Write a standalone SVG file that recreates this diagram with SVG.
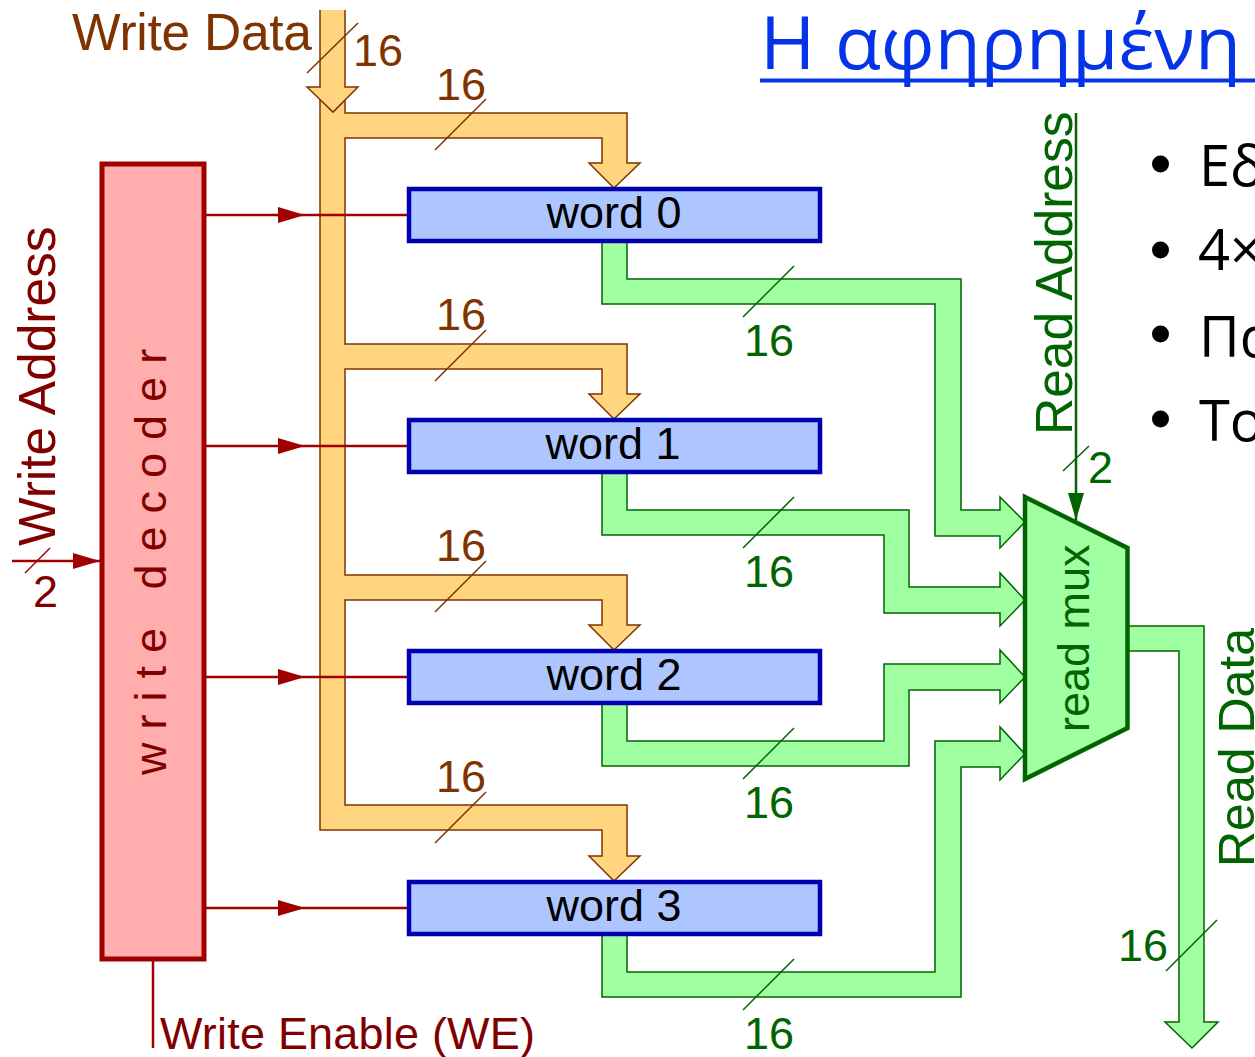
<svg xmlns="http://www.w3.org/2000/svg" width="1255" height="1057" viewBox="0 0 1255 1057">
<style>
text{font-family:"Liberation Sans",Arial,sans-serif}
.t45{font-size:45px}.t51{font-size:51.500px}.t50{font-size:50px}
.br{fill:#7f3300}.rd{fill:#800000}.gr{fill:#006400}.bk{fill:#000}
.ybus{fill:#ffd580;stroke:#7f3300;stroke-width:1.5}
.gbus{fill:#a0ffa0;stroke:#006400;stroke-width:1.5}
.yt{stroke:#7f3300;stroke-width:1.5;fill:none}
.gt{stroke:#006400;stroke-width:1.5;fill:none}
.rw{stroke:#a00000;stroke-width:2.5;fill:none}
.word rect{fill:#adc6ff;stroke:#0000b0;stroke-width:4.5}
.sl{font-family:"Open Sans","Noto Sans",sans-serif;fill:#000;font-size:56px}
.ti{font-family:"Open Sans","Noto Sans",sans-serif;fill:#0433e8;font-size:73px}
</style>
<defs>
<marker id="ar" markerUnits="userSpaceOnUse" markerWidth="27" markerHeight="16" refX="27" refY="8" orient="auto"><path d="M0 0L27 8L0 16Z" fill="#a00000"/></marker>
<marker id="ag" markerUnits="userSpaceOnUse" markerWidth="27" markerHeight="16" refX="27" refY="8" orient="auto"><path d="M0 0L27 8L0 16Z" fill="#006400"/></marker>
</defs>
<g id="connectors">
<path class="ybus" d="M320 99L333 112L345 100V113H627V163H640L614 188L589 163H602V138H345V344H627V394H640L614 419L589 394H602V369H345V575H627V625H640L614 650L589 625H602V600H345V805H627V856H640L614 881L589 856H602V830H320Z"/>
<path class="ybus" d="M320 10V87H307L333 112L358 87H345V10"/>
<path class="gbus" d="M627 241V279H961V510H1000V497L1025 522L1000 548V536H935V304H602V241Z"/>
<path class="gbus" d="M627 472V510H909V587H1000V573L1025 600L1000 626V613H884V535H602V472Z"/>
<path class="gbus" d="M627 703V741H884V664H1000V650L1025 677L1000 703V690H909V766H602V703Z"/>
<path class="gbus" d="M627 934V972H935V741H1000V727L1025 754L1000 780V767H961V997H602V934Z"/>
<path class="gbus" d="M1128 626H1204V1022H1218L1192 1048L1165 1022H1179V651H1128Z"/>
<path class="rw" marker-mid="url(#ar)" d="M204 215L305 215L409 215"/>
<path class="rw" marker-mid="url(#ar)" d="M204 446L305 446L409 446"/>
<path class="rw" marker-mid="url(#ar)" d="M204 677L305 677L409 677"/>
<path class="rw" marker-mid="url(#ar)" d="M204 908L305 908L409 908"/>
<path class="rw" marker-end="url(#ar)" d="M12 561H100"/>
<path class="rw" d="M153 959V1048"/>
<path d="M1076 113V520" stroke="#006400" stroke-width="2.5" fill="none" marker-end="url(#ag)"/>
<path class="yt" d="M307 73L358 23M435 150L486 99M435 381L486 330M435 612L486 561M435 843L486 792"/>
<path class="gt" d="M743 317L794 266M743 548L794 497M743 779L794 728M743 1010L794 959M1166 971L1217 920M1063 471L1089 446"/>
<path d="M25 573L50 548" stroke="#a00000" stroke-width="1.5" fill="none"/>
</g>
<g id="decoder"><rect x="102" y="164" width="102" height="795" fill="#ffadad" stroke="#a00000" stroke-width="5"/>
<text class="t45 rd" transform="translate(166 775) rotate(-90)" letter-spacing="13">write decoder</text></g>
<g id="word0" class="word"><rect x="409" y="189" width="411" height="52"/><text class="t45 bk" x="614" y="228" text-anchor="middle">word 0</text></g>
<g id="word1" class="word"><rect x="409" y="420" width="411" height="52"/><text class="t45 bk" x="613" y="459" text-anchor="middle">word 1</text></g>
<g id="word2" class="word"><rect x="409" y="651" width="411" height="52"/><text class="t45 bk" x="614" y="690" text-anchor="middle">word 2</text></g>
<g id="word3" class="word"><rect x="409" y="882" width="411" height="52"/><text class="t45 bk" x="614" y="921" text-anchor="middle">word 3</text></g>
<g id="mux"><path d="M1025 497L1127.500 548V728L1025 779Z" fill="#a0ffa0" stroke="#006400" stroke-width="4.500"/>
<text class="t45 gr" transform="translate(1089 732) rotate(-90)">read mux</text></g>
<g id="labels">
<text class="t51 br" x="72" y="50" textLength="240">Write Data</text>
<text class="t45 br" x="353" y="66">16</text>
<text class="t45 br" x="436" y="100">16</text>
<text class="t45 br" x="436" y="330">16</text>
<text class="t45 br" x="436" y="561">16</text>
<text class="t45 br" x="436" y="792">16</text>
<text class="t45 gr" x="744" y="356">16</text>
<text class="t45 gr" x="744" y="587">16</text>
<text class="t45 gr" x="744" y="818">16</text>
<text class="t45 gr" x="744" y="1049">16</text>
<text class="t45 gr" x="1118" y="961">16</text>
<text class="t45 gr" x="1088" y="483">2</text>
<text class="t45 rd" x="33" y="607">2</text>
<text class="t51 rd" transform="translate(55 546) rotate(-90)">Write Address</text>
<text class="t45 rd" x="160" y="1049" textLength="375">Write Enable (WE)</text>
<text class="t51 gr" transform="translate(1072 435) rotate(-90)">Read Address</text>
<text class="t50 gr" transform="translate(1254 867) rotate(-90)">Read Data</text>
</g>
<g id="slide">
<text class="ti" x="760" y="69" textLength="481" lengthAdjust="spacingAndGlyphs">Η αφηρημένη</text>
<rect x="760" y="78.500" width="495" height="4" fill="#0433e8"/>
<circle cx="1160.500" cy="164" r="8.500"/><circle cx="1160.500" cy="250" r="8.500"/><circle cx="1160.500" cy="334" r="8.500"/><circle cx="1160.500" cy="419" r="8.500"/>
<text class="sl" x="1199" y="186">Εδ</text>
<text class="sl" x="1198" y="270">4×</text>
<text class="sl" x="1199" y="357">Πα</text>
<text class="sl" x="1199" y="441">Το</text>
</g>
</svg>
